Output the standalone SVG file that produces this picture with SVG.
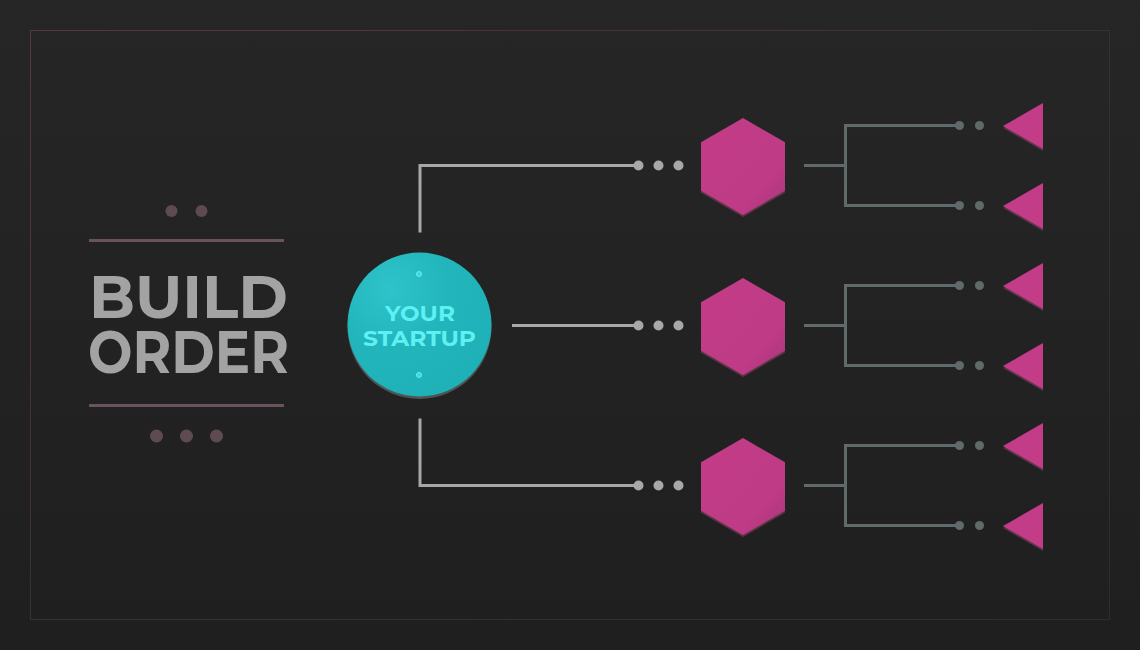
<svg xmlns="http://www.w3.org/2000/svg" width="1140" height="650" viewBox="0 0 1140 650">
  <defs>
    <linearGradient id="bg" x1="0" y1="0" x2="0" y2="1">
      <stop offset="0" stop-color="#262626"/>
      <stop offset="1" stop-color="#1f1f1f"/>
    </linearGradient>
    <linearGradient id="frame" x1="0" y1="0" x2="1" y2="1">
      <stop offset="0" stop-color="#553845"/>
      <stop offset="0.5" stop-color="#3a2f34"/>
      <stop offset="1" stop-color="#2e2e2e"/>
    </linearGradient>
    <radialGradient id="teal" cx="0.3" cy="0.25" r="0.8">
      <stop offset="0" stop-color="#2ec3ca"/>
      <stop offset="0.5" stop-color="#22b5bc"/>
      <stop offset="1" stop-color="#1fb1b8"/>
    </radialGradient>
    <linearGradient id="hexfill" x1="0" y1="0" x2="1" y2="1">
      <stop offset="0" stop-color="#c23c88"/>
      <stop offset="0.7" stop-color="#c03b86"/>
      <stop offset="1" stop-color="#a8357a"/>
    </linearGradient>
    <polygon id="hex" points="0,-48.5 42,-24.25 42,24.25 0,48.5 -42,24.25 -42,-24.25"/>
    <polygon id="tri" points="0,0 40,-23 40,23"/>
  </defs>
  <style>
    .mainline { stroke: #a8a8a8; stroke-width: 3; fill: none; }
    .maindot { fill: #a8a8a8; }
    .branch { stroke: #5f6a6a; stroke-width: 3; fill: none; }
    .bdot { fill: #5f6a6a; }
    .hexshape { fill: url(#hexfill); }
    .hexshadow { fill: #5a3446; }
    .trishape { fill: #c23c88; }
    .trishadow { fill: #5a3446; }
    .title { font-family: "Montserrat", "Liberation Sans", "DejaVu Sans", sans-serif; font-weight: bold; font-size: 60px; fill: #a3a3a3; }
    .deco { fill: #5e4a52; }
    .decoline { stroke: #6a5360; stroke-width: 3; }
    .ctext { font-family: "Montserrat", "Liberation Sans", "DejaVu Sans", sans-serif; font-weight: bold; font-size: 22px; fill: #5ef0f3; text-anchor: middle; }
  </style>

  <rect x="0" y="0" width="1140" height="650" fill="url(#bg)"/>
  <rect x="30.5" y="30.5" width="1079" height="589" fill="none" stroke="url(#frame)" stroke-width="1"/>

  <g id="title">
    <circle class="deco" cx="171.5" cy="211" r="6"/>
    <circle class="deco" cx="201.5" cy="211" r="6"/>
    <line class="decoline" x1="89" y1="240.5" x2="284" y2="240.5"/>
    <text class="title"><tspan x="89" y="318" textLength="199" lengthAdjust="spacingAndGlyphs">BUILD</tspan><tspan x="88" y="373" textLength="201" lengthAdjust="spacingAndGlyphs">ORDER</tspan></text>
    <line class="decoline" x1="89" y1="405.5" x2="284" y2="405.5"/>
    <circle class="deco" cx="156.5" cy="436" r="6.5"/>
    <circle class="deco" cx="186.5" cy="436" r="6.5"/>
    <circle class="deco" cx="216.5" cy="436" r="6.5"/>
  </g>

  <g id="connectors">
    <polyline class="mainline" points="420,232.5 420,165.5 638,165.5"/>
    <line class="mainline" x1="512" y1="325.5" x2="638" y2="325.5"/>
    <polyline class="mainline" points="420,418.5 420,485.5 638,485.5"/>
    <circle class="maindot" cx="638.5" cy="165.5" r="5"/>
    <circle class="maindot" cx="658.5" cy="165.5" r="5"/>
    <circle class="maindot" cx="678.5" cy="165.5" r="5"/>
    <circle class="maindot" cx="638.5" cy="325.5" r="5"/>
    <circle class="maindot" cx="658.5" cy="325.5" r="5"/>
    <circle class="maindot" cx="678.5" cy="325.5" r="5"/>
    <circle class="maindot" cx="638.5" cy="485.5" r="5"/>
    <circle class="maindot" cx="658.5" cy="485.5" r="5"/>
    <circle class="maindot" cx="678.5" cy="485.5" r="5"/>

    <line class="branch" x1="804" y1="165.5" x2="846" y2="165.5"/>
    <polyline class="branch" points="959,125.5 845.5,125.5 845.5,205.5 959,205.5"/>
    <line class="branch" x1="804" y1="325.5" x2="846" y2="325.5"/>
    <polyline class="branch" points="959,285.5 845.5,285.5 845.5,365.5 959,365.5"/>
    <line class="branch" x1="804" y1="485.5" x2="846" y2="485.5"/>
    <polyline class="branch" points="959,445.5 845.5,445.5 845.5,525.5 959,525.5"/>
    <circle class="bdot" cx="959.5" cy="125.5" r="4.5"/>
    <circle class="bdot" cx="979.5" cy="125.5" r="4.5"/>
    <circle class="bdot" cx="959.5" cy="205.5" r="4.5"/>
    <circle class="bdot" cx="979.5" cy="205.5" r="4.5"/>
    <circle class="bdot" cx="959.5" cy="285.5" r="4.5"/>
    <circle class="bdot" cx="979.5" cy="285.5" r="4.5"/>
    <circle class="bdot" cx="959.5" cy="365.5" r="4.5"/>
    <circle class="bdot" cx="979.5" cy="365.5" r="4.5"/>
    <circle class="bdot" cx="959.5" cy="445.5" r="4.5"/>
    <circle class="bdot" cx="979.5" cy="445.5" r="4.5"/>
    <circle class="bdot" cx="959.5" cy="525.5" r="4.5"/>
    <circle class="bdot" cx="979.5" cy="525.5" r="4.5"/>
  </g>

  <g id="startup">
    <circle cx="419.5" cy="327" r="72" fill="#4f5556"/>
    <circle cx="419.5" cy="324.5" r="72" fill="url(#teal)"/>
    <circle cx="419" cy="274" r="2.5" fill="#3fd6dc" stroke="#66eef2" stroke-width="1"/>
    <circle cx="419" cy="375" r="2.5" fill="#3fd6dc" stroke="#66eef2" stroke-width="1"/>
    <text class="ctext"><tspan x="420" y="321" textLength="70" lengthAdjust="spacingAndGlyphs">YOUR</tspan><tspan x="419.5" y="346" textLength="113" lengthAdjust="spacingAndGlyphs">STARTUP</tspan></text>
  </g>

  <g id="hex1">
    <use href="#hex" class="hexshadow" x="743" y="168.5"/>
    <use href="#hex" class="hexshape" x="743" y="166.5"/>
  </g>
  <g id="hex2">
    <use href="#hex" class="hexshadow" x="743" y="328.5"/>
    <use href="#hex" class="hexshape" x="743" y="326.5"/>
  </g>
  <g id="hex3">
    <use href="#hex" class="hexshadow" x="743" y="488.5"/>
    <use href="#hex" class="hexshape" x="743" y="486.5"/>
  </g>

  <g id="tri1"><use href="#tri" class="trishadow" x="1003" y="128"/><use href="#tri" class="trishape" x="1003" y="126"/></g>
  <g id="tri2"><use href="#tri" class="trishadow" x="1003" y="208"/><use href="#tri" class="trishape" x="1003" y="206"/></g>
  <g id="tri3"><use href="#tri" class="trishadow" x="1003" y="288"/><use href="#tri" class="trishape" x="1003" y="286"/></g>
  <g id="tri4"><use href="#tri" class="trishadow" x="1003" y="368"/><use href="#tri" class="trishape" x="1003" y="366"/></g>
  <g id="tri5"><use href="#tri" class="trishadow" x="1003" y="448"/><use href="#tri" class="trishape" x="1003" y="446"/></g>
  <g id="tri6"><use href="#tri" class="trishadow" x="1003" y="528"/><use href="#tri" class="trishape" x="1003" y="526"/></g>
</svg>
